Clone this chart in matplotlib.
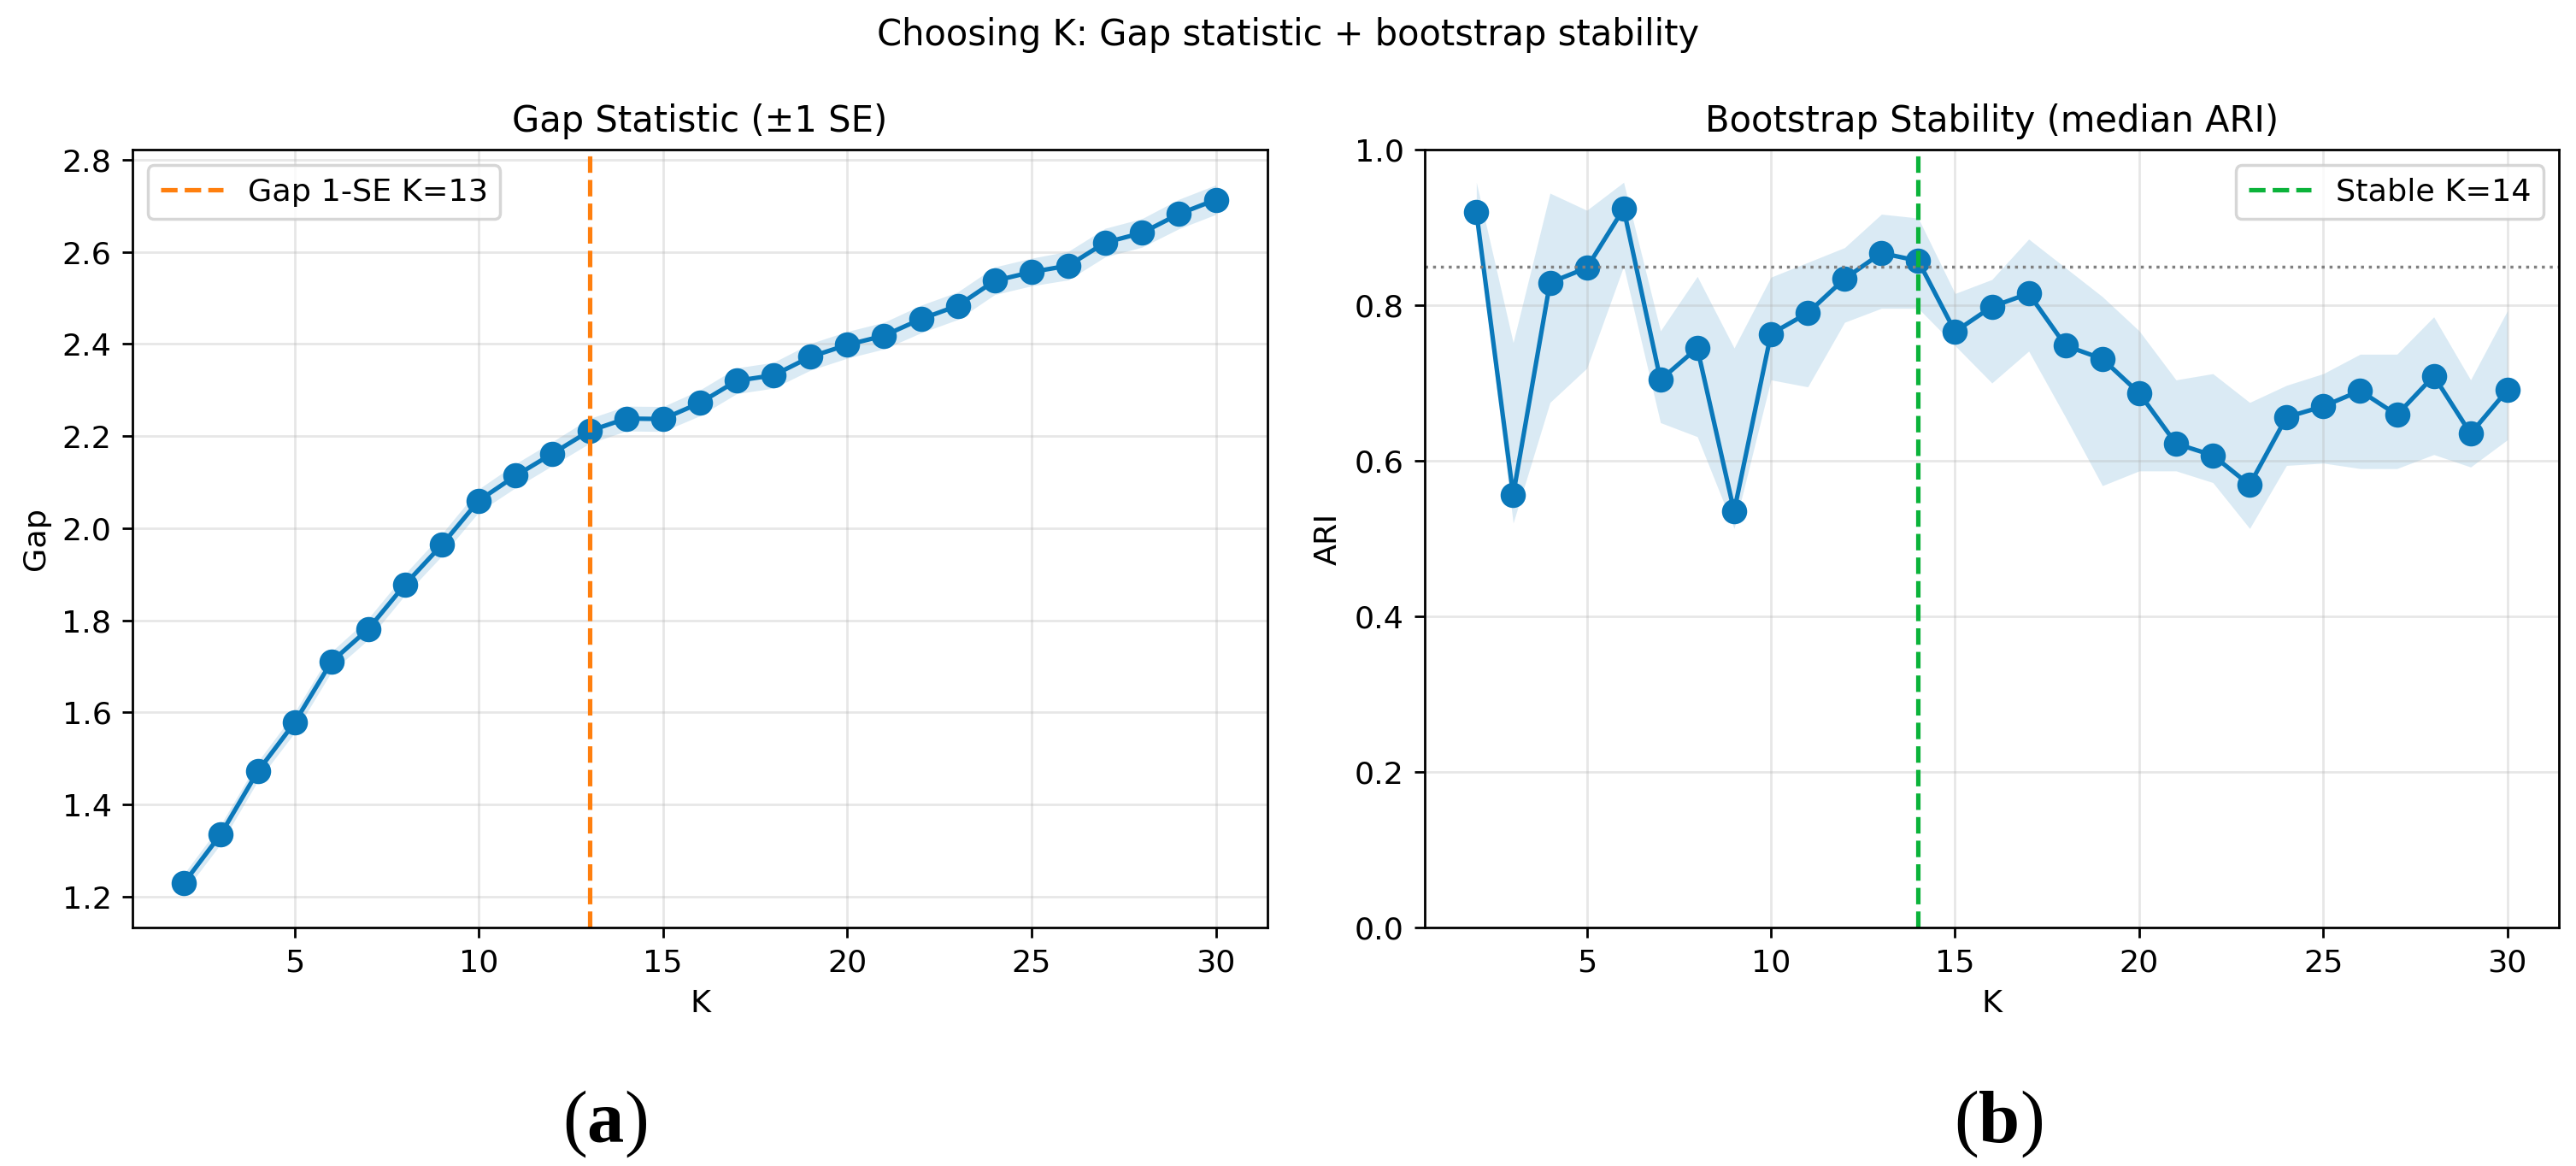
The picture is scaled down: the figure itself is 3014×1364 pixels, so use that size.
import numpy as np
import matplotlib
matplotlib.use("Agg")
import matplotlib.pyplot as plt

# DATA
K = list(range(2, 31))

gap = [1.230, 1.336, 1.472, 1.578, 1.710, 1.781, 1.878, 1.964, 2.060, 2.114,
       2.162, 2.211, 2.238, 2.237, 2.272, 2.320, 2.332, 2.372, 2.398, 2.418,
       2.454, 2.483, 2.537, 2.556, 2.570, 2.620, 2.641, 2.682, 2.713]
gap_se = [0.020, 0.021, 0.021, 0.022, 0.022, 0.023, 0.023, 0.024, 0.025, 0.026,
          0.026, 0.027, 0.027, 0.027, 0.028, 0.028, 0.028, 0.029, 0.029, 0.029,
          0.030, 0.030, 0.030, 0.030, 0.031, 0.031, 0.031, 0.032, 0.032]

ari_med = [0.920, 0.556, 0.829, 0.848, 0.924, 0.704, 0.745, 0.535, 0.763, 0.790,
           0.834, 0.867, 0.857, 0.766, 0.798, 0.815, 0.748, 0.731, 0.687, 0.622,
           0.607, 0.569, 0.656, 0.670, 0.690, 0.659, 0.709, 0.635, 0.691]
ari_lo = [0.905, 0.520, 0.675, 0.719, 0.850, 0.649, 0.631, 0.513, 0.704, 0.695,
          0.778, 0.796, 0.796, 0.748, 0.700, 0.741, 0.656, 0.568, 0.587, 0.587,
          0.572, 0.513, 0.594, 0.597, 0.590, 0.590, 0.608, 0.592, 0.627]
ari_hi = [0.958, 0.752, 0.944, 0.922, 0.958, 0.767, 0.837, 0.745, 0.836, 0.855,
          0.874, 0.917, 0.912, 0.815, 0.833, 0.885, 0.848, 0.811, 0.767, 0.704,
          0.712, 0.675, 0.697, 0.712, 0.737, 0.737, 0.785, 0.704, 0.793]

k_gap = 13
k_stable = 14
ari_threshold = 0.85

# STYLE
plt.rcParams['font.family'] = ['DejaVu Sans']
plt.rcParams['font.size'] = 10.5
# panel letters: serif, bold letter inside regular parentheses
plt.rcParams['mathtext.fontset'] = 'custom'
plt.rcParams['mathtext.rm'] = 'Liberation Serif'
plt.rcParams['mathtext.bf'] = 'Liberation Serif:bold'
blue = '#0a78ba'

fig = plt.figure(figsize=(12.056, 5.456), dpi=250)
ax1 = fig.add_axes([0.0514, 0.2045, 0.4406, 0.6672])
ax2 = fig.add_axes([0.5531, 0.2045, 0.4403, 0.6672])

# GAP STATISTIC
gap = np.array(gap)
gap_se = np.array(gap_se)
ax1.fill_between(K, gap - gap_se, gap + gap_se, color=blue, alpha=0.15, linewidth=0)
ax1.plot(K, gap, '-o', color=blue, linewidth=1.5, markersize=7.5)
ax1.axvline(k_gap, color='#ff7f0e', linestyle='--', linewidth=1.5,
            label='Gap 1-SE K=%d' % k_gap)
ax1.set_title('Gap Statistic (\u00b11 SE)', fontsize=12)
ax1.set_xlabel('K')
ax1.set_ylabel('Gap')
ax1.grid(True, alpha=0.3)
ax1.legend(loc='upper left')

# BOOTSTRAP STABILITY
ax2.fill_between(K, ari_lo, ari_hi, color=blue, alpha=0.15, linewidth=0)
ax2.plot(K, ari_med, '-o', color=blue, linewidth=1.5, markersize=7.5)
ax2.axhline(ari_threshold, color='gray', linestyle=':', linewidth=1)
ax2.axvline(k_stable, color='#0bb33a', linestyle='--', linewidth=1.5,
            label='Stable K=%d' % k_stable)
ax2.set_ylim(0, 1)
ax2.set_title('Bootstrap Stability (median ARI)', fontsize=12)
ax2.set_xlabel('K')
ax2.set_ylabel('ARI')
ax2.grid(True, alpha=0.3)
ax2.legend(loc='upper right')

for ax in (ax1, ax2):
    ax.set_xticks([5, 10, 15, 20, 25, 30])

fig.suptitle('Choosing K: Gap statistic + bootstrap stability', fontsize=12, y=0.985)

# PANEL LABELS
fig.text(708 / 3014, 1 - 1315 / 1364, r'$\mathrm{(}\mathbf{a}\mathrm{)}$', ha='center', va='center',
         fontsize=25)
fig.text(2338 / 3014, 1 - 1315 / 1364, r'$\mathrm{(}\mathbf{b}\mathrm{)}$', ha='center', va='center',
         fontsize=25)

fig.savefig('out.png', dpi=250)
